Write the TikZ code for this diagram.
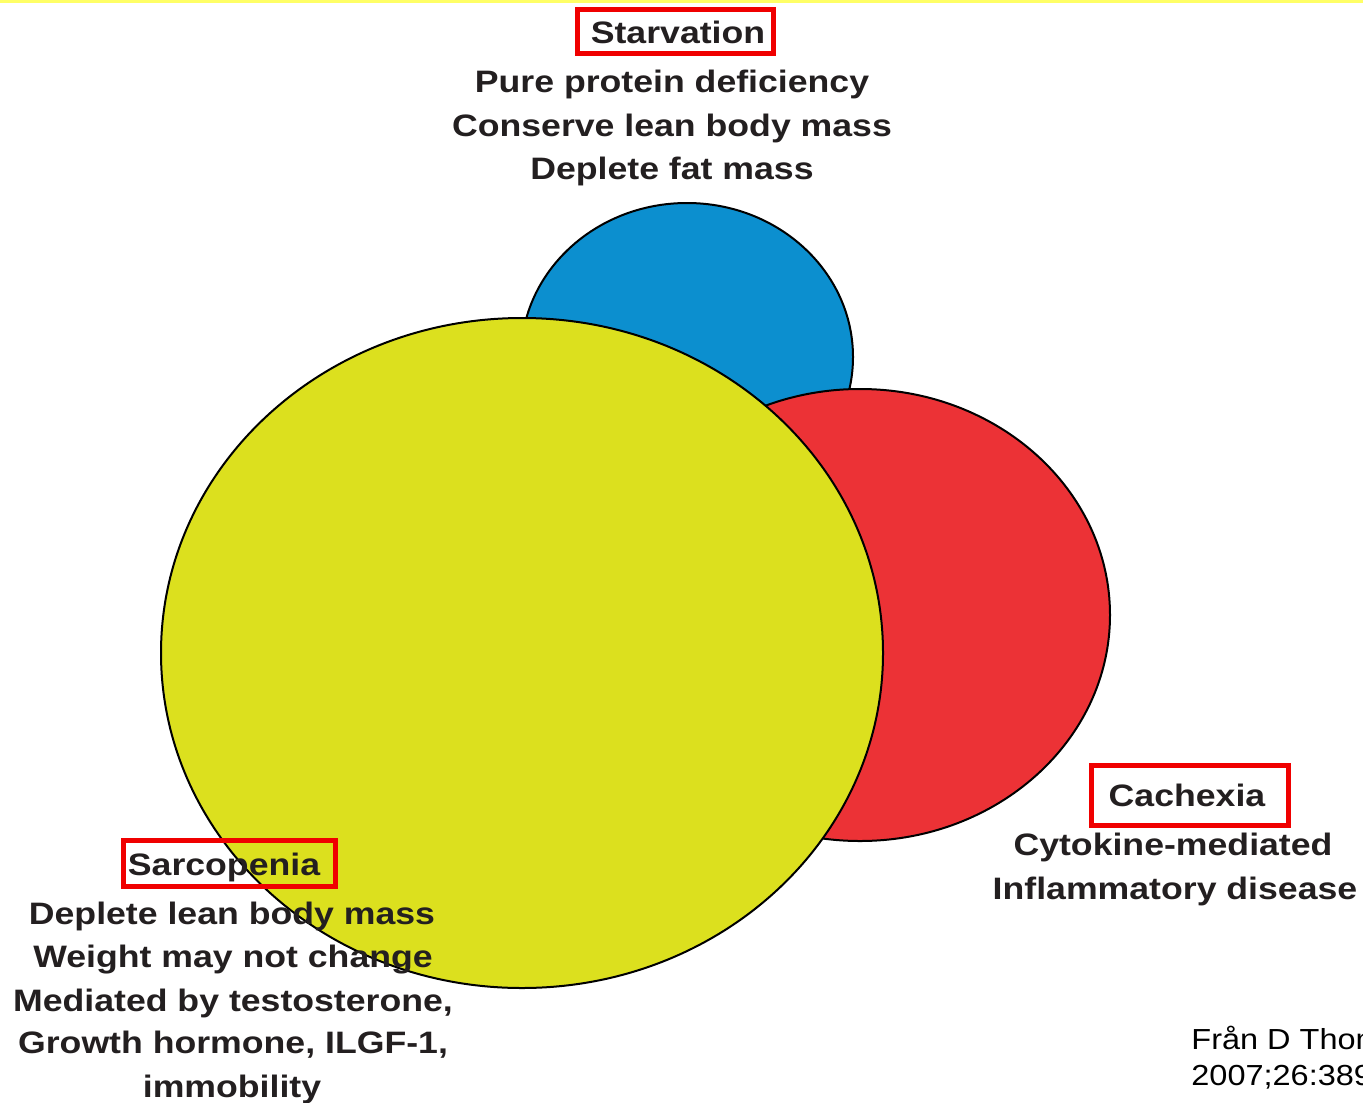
\documentclass[tikz,border=0pt]{standalone}
\usepackage{fontspec}
\setmainfont{Liberation Sans}
\newfontfamily\lblfont{Liberation Sans}[FakeStretch=1.15]
\newfontfamily\footfont{Liberation Sans}[FakeStretch=1.12]
\definecolor{cblue}{RGB}{12,143,207}
\definecolor{cyellow}{RGB}{220,224,30}
\definecolor{cred}{RGB}{236,50,54}
\definecolor{boxred}{RGB}{240,0,0}
\definecolor{topline}{RGB}{255,255,102}
\definecolor{ink}{RGB}{35,31,32}
\begin{document}
\begin{tikzpicture}[x=0.5pt,y=-0.5pt,
  blob/.style={draw=black,line width=1pt},
  lbl/.style={anchor=base,inner sep=0pt,text=ink,font=\lblfont\bfseries\fontsize{15.5pt}{18pt}\selectfont},
  titlebox/.style={draw=boxred,line width=2.5pt},
  foot/.style={anchor=base west,inner sep=0pt,text=black,font=\footfont\fontsize{14.5pt}{17pt}\selectfont}]
\useasboundingbox (0,0) rectangle (1363,1102);
\clip (0,0) rectangle (1363,1102);
\fill[white] (0,0) rectangle (1363,1102);
\fill[topline] (0,0) rectangle (1363,3);
% circles
\draw[blob,fill=cblue] (687,357) ellipse [x radius=83pt, y radius=77pt];
\draw[blob,fill=cred] (860,615) ellipse [x radius=125pt, y radius=113pt];
\draw[blob,fill=cyellow] (522,653) ellipse [x radius=180.5pt, y radius=167.5pt];
% Starvation
\draw[titlebox] (577.5,9.5) rectangle (773.5,53.5);
\node[lbl] (starv) at (678,44) {Starvation};
\node[lbl] (st1) at (672,93) {Pure protein deficiency};
\node[lbl] (st2) at (672,136) {Conserve lean body mass};
\node[lbl] (st3) at (672,179) {Deplete fat mass};
% Cachexia
\draw[titlebox] (1091.5,765.5) rectangle (1288.5,825.5);
\node[lbl] (cach) at (1187,806) {Cachexia};
\node[lbl] (ca1) at (1173,855) {Cytokine-mediated};
\node[lbl] (ca2) at (1175,899) {Inflammatory disease};
% Sarcopenia
\draw[titlebox] (123.5,840.5) rectangle (335.5,886.5);
\node[lbl] (sarc) at (224,875) {Sarcopenia};
\node[lbl] (sa1) at (232,924) {Deplete lean body mass};
\node[lbl] (sa2) at (233,967) {Weight may not change};
\node[lbl] (sa3) at (233,1011) {Mediated by testosterone,};
\node[lbl] (sa4) at (233,1053) {Growth hormone, ILGF-1,};
\node[lbl] (sa5) at (232,1097) {immobility};
% footnote
\node[foot] (f1) at (1191,1049) {Från D Thom};
\node[foot] (f2) at (1191,1085) {2007;26:389};
\end{tikzpicture}
\end{document}
